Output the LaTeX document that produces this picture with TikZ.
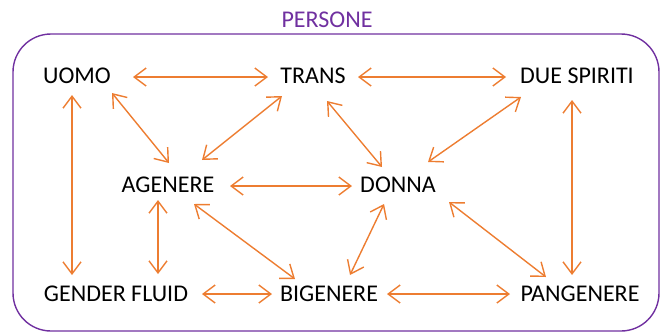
\documentclass[tikz,border=0pt]{standalone}
\usepackage{fontspec}
\setmainfont{Carlito}
\usetikzlibrary{arrows.meta}
\definecolor{arrOrange}{HTML}{ED7D31}
\definecolor{boxPurple}{HTML}{7030A0}
\begin{document}
\begin{tikzpicture}[x=1pt,y=-1pt,
  lbl/.style={inner sep=0pt,anchor=center,font=\fontsize{24}{28}\selectfont,text=black},
  conn/.style={draw=arrOrange,line width=1.4pt,{Straight Barb[length=12pt,width=18pt]}-{Straight Barb[length=12pt,width=18pt]}}]
\useasboundingbox (0,0) rectangle (661,333);
\draw[boxPurple,line width=1.4pt,rounded corners=38pt] (13,34) rectangle (659,331);
\node[lbl,text=boxPurple] (persone) at (327,20) {PERSONE};
\node[lbl] (uomo) at (77,76) {UOMO};
\node[lbl] (trans) at (313,76) {TRANS};
\node[lbl] (due) at (577,76) {DUE SPIRITI};
\node[lbl] (agen) at (168,185) {AGENERE};
\node[lbl] (donna) at (398,185) {DONNA};
\node[lbl] (gf) at (116,294) {GENDER FLUID};
\node[lbl] (big) at (329,294) {BIGENERE};
\node[lbl] (pang) at (580,294) {PANGENERE};
\path[conn] ([shift={(56,1)}]uomo.center) -- ([shift={(-45,1)}]trans.center);
\path[conn] ([shift={(45,1)}]trans.center) -- ([shift={(-71,1)}]due.center);
\path[conn] ([shift={(-5,19)}]uomo.center) -- ([shift={(-44,-19)}]gf.center);
\path[conn] ([shift={(35,17)}]uomo.center) -- ([shift={(1,-22)}]agen.center);
\path[conn] ([shift={(-31,20)}]trans.center) -- ([shift={(34,-25)}]agen.center);
\path[conn] ([shift={(14,25)}]trans.center) -- ([shift={(-16,-18)}]donna.center);
\path[conn] ([shift={(-56,21)}]due.center) -- ([shift={(30,-23)}]donna.center);
\path[conn] ([shift={(-5,24)}]due.center) -- ([shift={(-8,-19)}]pang.center);
\path[conn] ([shift={(62,1)}]agen.center) -- ([shift={(-46,1)}]donna.center);
\path[conn] ([shift={(-10,15)}]agen.center) -- ([shift={(42,-20)}]gf.center);
\path[conn] ([shift={(26,19)}]agen.center) -- ([shift={(-34,-15)}]big.center);
\path[conn] ([shift={(-14,19)}]donna.center) -- ([shift={(21,-19)}]big.center);
\path[conn] ([shift={(51,17)}]donna.center) -- ([shift={(-34,-17)}]pang.center);
\path[conn] ([shift={(86,0)}]gf.center) -- ([shift={(-57,0)}]big.center);
\path[conn] ([shift={(58,0)}]big.center) -- ([shift={(-70,0)}]pang.center);
\end{tikzpicture}
\end{document}
